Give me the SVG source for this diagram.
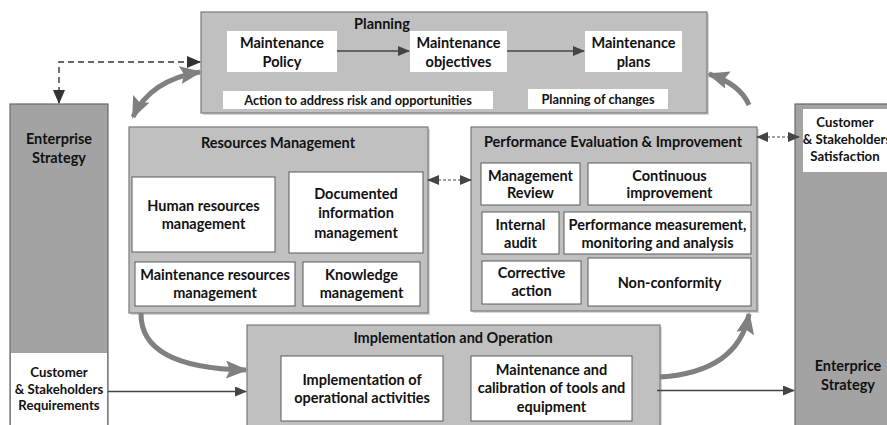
<svg xmlns="http://www.w3.org/2000/svg" width="887" height="425" viewBox="0 0 887 425">
<defs>
<style>
text{font-family:Lato,"Open Sans","Liberation Sans",sans-serif;font-weight:bold;fill:#111;text-anchor:middle;font-size:14.5px}
.sm{font-size:12.8px}
.cs{font-size:13.2px}
.cont{fill:#c0c0c0;stroke:#7a7a7a;stroke-width:1.2}
.tall{fill:#a3a3a3;stroke:#6a6a6a;stroke-width:1.2}
.wb{fill:#fff;stroke:#5a5a5a;stroke-width:1}
.wn{fill:#fff;stroke:none}
.sh{fill:#d6d6d6}
.thick{fill:none;stroke:#808080;stroke-width:5}
.thin{fill:none;stroke:#444;stroke-width:1.3}
.dash{fill:none;stroke:#333;stroke-width:1.4;stroke-dasharray:6 4}
.dash2{fill:none;stroke:#444;stroke-width:1;stroke-dasharray:3 2}
</style>
<marker id="big" viewBox="0 0 22 18" refX="20" refY="9" markerWidth="22" markerHeight="18" markerUnits="userSpaceOnUse" orient="auto-start-reverse"><path d="M0,0 L22,9 L0,18 L4,9 Z" fill="#808080"/></marker>
<marker id="ar" viewBox="0 0 12 10" refX="11" refY="5" markerWidth="12" markerHeight="10" markerUnits="userSpaceOnUse" orient="auto-start-reverse"><path d="M0,0 L12,5 L0,10 Z" fill="#444"/></marker>
<marker id="ard" viewBox="0 0 14 12" refX="13" refY="6" markerWidth="14" markerHeight="12" markerUnits="userSpaceOnUse" orient="auto-start-reverse"><path d="M0,0 L14,6 L0,12 Z" fill="#333"/></marker>
</defs>

<g id="enterprise-strategy-left">
<rect class="tall" x="10" y="104" width="98" height="330"/>
<text x="59" y="144">Enterprise</text>
<text x="59" y="163">Strategy</text>
</g>
<g id="customer-requirements">
<rect class="wn" x="11" y="353" width="96" height="80"/>
<text class="cs" x="59" y="377">Customer</text>
<text class="cs" x="59" y="394">&amp; Stakeholders</text>
<text class="cs" x="59" y="410">Requirements</text>
</g>

<g id="enterprise-strategy-right">
<rect class="tall" x="795" y="104" width="100" height="330"/>
<text x="848" y="371">Enterprice</text>
<text x="848" y="390">Strategy</text>
</g>
<g id="customer-satisfaction">
<rect class="wn" x="803" y="109" width="90" height="63"/>
<text class="cs" x="845" y="127">Customer</text>
<text class="cs" x="847" y="144">&amp; Stakeholders</text>
<text class="cs" x="845" y="161">Satisfaction</text>
</g>

<g id="planning">
<rect class="sh" x="203" y="14" width="506" height="101"/>
<rect class="cont" x="201" y="12" width="506" height="101"/>
<text x="382" y="29">Planning</text>
<g id="maintenance-policy">
<rect class="wn" x="227" y="31" width="110" height="41"/>
<text x="282" y="48">Maintenance</text>
<text x="282" y="67">Policy</text>
</g>
<g id="maintenance-objectives">
<rect class="wn" x="410" y="31" width="97" height="41"/>
<text x="458.5" y="48">Maintenance</text>
<text x="458.5" y="67">objectives</text>
</g>
<g id="maintenance-plans">
<rect class="wn" x="585" y="31" width="97" height="41"/>
<text x="633.5" y="48">Maintenance</text>
<text x="633.5" y="67">plans</text>
</g>
<g id="action-risk">
<rect class="wn" x="223" y="91" width="270" height="18"/>
<text class="sm" x="358" y="104.5">Action to address risk and opportunities</text>
</g>
<g id="planning-changes">
<rect class="wn" x="528" y="89" width="140" height="20"/>
<text class="sm" x="598" y="104">Planning of changes</text>
</g>
</g>

<g id="resources-management">
<rect class="sh" x="131" y="129" width="299" height="186"/>
<rect class="cont" x="129" y="127" width="299" height="186"/>
<text x="278" y="148">Resources Management</text>
<g id="human-resources">
<rect class="wb" x="132" y="177" width="143" height="75"/>
<text x="203.5" y="211">Human resources</text>
<text x="203.5" y="229">management</text>
</g>
<g id="documented-information">
<rect class="wb" x="289" y="172" width="134" height="81"/>
<text x="356" y="199">Documented</text>
<text x="356" y="218">information</text>
<text x="356" y="238">management</text>
</g>
<g id="maintenance-resources">
<rect class="wb" x="135" y="262" width="160" height="44"/>
<text x="215" y="280">Maintenance resources</text>
<text x="215" y="298">management</text>
</g>
<g id="knowledge-management">
<rect class="wb" x="303" y="262" width="117" height="44"/>
<text x="361.5" y="280">Knowledge</text>
<text x="361.5" y="298">management</text>
</g>
</g>

<g id="performance-evaluation">
<rect class="sh" x="473" y="129" width="286" height="184"/>
<rect class="cont" x="471" y="127" width="286" height="184"/>
<text x="613" y="147">Performance Evaluation &amp; Improvement</text>
<g id="management-review">
<rect class="wb" x="481" y="163" width="99" height="42"/>
<text x="530.5" y="181">Management</text>
<text x="530.5" y="198">Review</text>
</g>
<g id="continuous-improvement">
<rect class="wb" x="588" y="163" width="163" height="42"/>
<text x="669.5" y="181">Continuous</text>
<text x="669.5" y="198">improvement</text>
</g>
<g id="internal-audit">
<rect class="wb" x="482" y="212" width="77" height="42"/>
<text x="520.5" y="230">Internal</text>
<text x="520.5" y="248">audit</text>
</g>
<g id="performance-measurement">
<rect class="wb" x="564" y="212" width="187" height="42"/>
<text x="657.5" y="230">Performance measurement,</text>
<text x="657.5" y="248">monitoring and analysis</text>
</g>
<g id="corrective-action">
<rect class="wb" x="482" y="261" width="99" height="43"/>
<text x="531.5" y="278">Corrective</text>
<text x="531.5" y="296">action</text>
</g>
<g id="non-conformity">
<rect class="wb" x="588" y="258" width="163" height="48"/>
<text x="669.5" y="288">Non-conformity</text>
</g>
</g>

<g id="implementation-operation">
<rect class="sh" x="249" y="327" width="413" height="110"/>
<rect class="cont" x="247" y="325" width="413" height="110"/>
<text x="453" y="343">Implementation and Operation</text>
<g id="implementation-activities">
<rect class="wb" x="281" y="356" width="162" height="65"/>
<text x="362" y="385">Implementation of</text>
<text x="362" y="403">operational activities</text>
</g>
<g id="maintenance-calibration">
<rect class="wb" x="471" y="356" width="161" height="65"/>
<text x="551.5" y="375">Maintenance and</text>
<text x="551.5" y="393">calibration of tools and</text>
<text x="551.5" y="412">equipment</text>
</g>
</g>

<g id="connectors">
<path class="thin" d="M337,51 L409,51" marker-end="url(#ar)"/>
<path class="thin" d="M507,51 L584,51" marker-end="url(#ar)"/>
<path class="dash" d="M59,103 L59,62 L200,62" marker-start="url(#ard)" marker-end="url(#ard)"/>
<path class="thick" d="M133,117 Q150,80 200,72" marker-start="url(#big)" marker-end="url(#big)"/>
<path class="thick" d="M749,105 Q740,84 709,74" marker-end="url(#big)"/>
<path class="dash2" d="M428,180 L471,180" marker-start="url(#ar)" marker-end="url(#ar)"/>
<path class="dash2" d="M757,137 L799,137" marker-start="url(#ar)" marker-end="url(#ar)"/>
<path class="thick" d="M141,313 Q140,368 246,370" marker-end="url(#big)"/>
<path class="thin" d="M108,391.5 L246,391.5" marker-end="url(#ar)"/>
<path class="thick" d="M660,377 Q738,372 749,314" marker-end="url(#big)"/>
<path class="thin" d="M657,390.5 L794,390.5" marker-end="url(#ar)"/>
</g>
</svg>
